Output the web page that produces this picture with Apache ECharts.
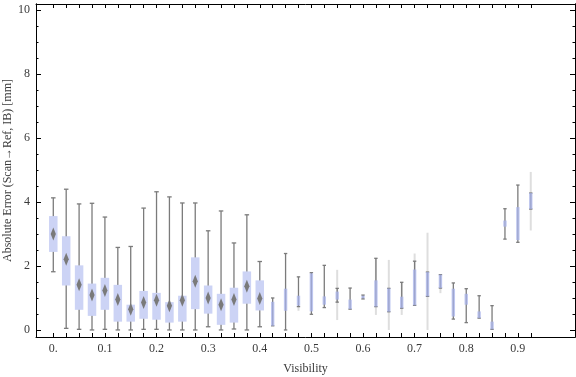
<!DOCTYPE html>
<html>
<head>
  <meta charset="utf-8" />
  <title>Visibility box whisker</title>
  <script src="https://cdn.jsdelivr.net/npm/echarts@6/dist/echarts.min.js"></script>
  <style>
    html, body { margin: 0; padding: 0; background: #fff; }
  </style>
</head>
<body>
  <div id="main" style="width: 576px; height: 377px"></div>
  <script>
    // visibility bins
    let cats = [0, 0.025, 0.05, 0.075, 0.1, 0.125, 0.15, 0.175, 0.2, 0.225,
      0.25, 0.275, 0.3, 0.325, 0.35, 0.375, 0.4, 0.425, 0.45, 0.475,
      0.5, 0.525, 0.55, 0.575, 0.6, 0.625, 0.65, 0.675, 0.7, 0.725,
      0.75, 0.775, 0.8, 0.825, 0.85, 0.875, 0.9, 0.925];
    let whiskLo = [1.82, 0.05, 0.02, 0, 0.02, 0, 0, 0.02, 0.02, 0,
      0, 0, 0.1, 0, 0.03, 0, 0.1, 0.13, 0, 0.73,
      0.49, 0.7, 0.87, 0.65, 0.97, 0.73, 0.57, 0.68, 0.77, 1.05,
      1.31, 0.34, 0.23, 0.37, 0.02, 2.84, 2.74, 3.78];
    let boxLo = [2.44, 1.39, 0.63, 0.44, 0.63, 0.26, 0.26, 0.35, 0.32, 0.23,
      0.26, 0.65, 0.51, 0.16, 0.23, 0.82, 0.61, 0.13, 0.6, 0.76,
      0.58, 0.79, 0.95, 0.65, 0.99, 0.73, 0.57, 0.68, 0.77, 1.05,
      1.31, 0.42, 0.79, 0.37, 0.02, 3.23, 2.81, 3.78];
    let medians = [3.0, 2.21, 1.41, 1.09, 1.23, 0.95, 0.65, 0.86, 0.93, 0.76,
      0.93, 1.52, 1.0, 0.79, 0.95, 1.37, 0.98, 0.58, 0.95, 0.9,
      1.2, 0.92, 1.1, 0.8, 1.03, 1.1, 0.95, 0.85, 1.3, 1.4,
      1.5, 0.9, 0.95, 0.45, 0.12, 3.32, 3.3, 4.0];
    let boxHi = [3.56, 2.93, 2.02, 1.45, 1.63, 1.41, 0.79, 1.22, 1.16, 0.87,
      1.07, 2.27, 1.39, 1.13, 1.32, 1.83, 1.55, 0.88, 1.29, 1.07,
      1.77, 1.05, 1.2, 0.95, 1.07, 1.55, 1.3, 1.04, 1.89, 1.81,
      1.73, 1.29, 1.13, 0.58, 0.26, 3.42, 3.84, 4.28];
    let whiskHi = [4.13, 4.4, 3.94, 3.96, 3.53, 2.58, 2.61, 3.81, 4.32, 4.16,
      3.97, 3.97, 3.1, 3.72, 2.72, 3.6, 2.14, 1.0, 2.39, 1.66,
      1.79, 2.02, 1.3, 1.31, 1.09, 2.24, 1.3, 1.49, 2.15, 1.81,
      1.73, 1.47, 1.29, 1.07, 0.76, 3.79, 4.53, 4.28];
    // faint outer range seen on some of the sparse bins
    let faintLo = [null, null, null, null, null, null, null, null, null, null,
      null, null, null, null, null, null, null, null, null, 0.6,
      null, null, 0.31, null, null, 0.47, 0, 0.47, 0.77, 0,
      1.15, null, null, null, null, null, null, 3.11];
    let faintHi = [null, null, null, null, null, null, null, null, null, null,
      null, null, null, null, null, null, null, null, null, 0.76,
      null, null, 1.88, null, null, 2.24, 2.19, 1.49, 2.39, 3.04,
      1.73, null, null, null, null, null, null, 4.94];
    let xLabels = [0, 0.1, 0.2, 0.3, 0.4, 0.5, 0.6, 0.7, 0.8, 0.9];
    let yMajor = [0, 2, 4, 6, 8, 10];
    let yMinor = [0.5, 1, 1.5, 2.5, 3, 3.5, 4.5, 5, 5.5, 6.5, 7, 7.5, 8.5, 9, 9.5];

    let data = cats.map(function (c, i) {
      return [c, whiskLo[i], boxLo[i], medians[i], boxHi[i], whiskHi[i],
        faintLo[i] == null ? NaN : faintLo[i], faintHi[i] == null ? NaN : faintHi[i], i];
    });

    const FONT = "'Liberation Serif', 'DejaVu Serif', serif";
    const TXT = "#3a3a3a";

    function renderBox(params, api) {
      let i = api.value(8);
      let x = api.coord([api.value(0), 0])[0];
      let y = function (v) { return api.coord([0, v])[1]; };
      let wide = i <= 16;
      let bw = wide ? 8.5 : 3.4;
      let cap = wide ? 4.5 : 3.4;
      let kids = [];
      let fl = api.value(6), fh = api.value(7);
      if (!isNaN(fl)) {
        kids.push({
          type: "line",
          shape: { x1: x, y1: y(fl), x2: x, y2: y(fh) },
          style: { stroke: "#dedede", lineWidth: 2 }
        });
      }
      let wl = y(api.value(1)), bl = y(api.value(2)), md = y(api.value(3));
      let bh = y(api.value(4)), wh = y(api.value(5));
      let wstyle = { stroke: "#7b7b7b", lineWidth: 1.3 };
      kids.push({ type: "line", shape: { x1: x, y1: wl, x2: x, y2: wh }, style: wstyle });
      kids.push({ type: "line", shape: { x1: x - cap / 2, y1: wl, x2: x + cap / 2, y2: wl }, style: wstyle });
      kids.push({ type: "line", shape: { x1: x - cap / 2, y1: wh, x2: x + cap / 2, y2: wh }, style: wstyle });
      kids.push({
        type: "rect",
        shape: { x: x - bw / 2, y: bh, width: bw, height: Math.max(bl - bh, 1.5) },
        style: { fill: wide ? "#ccd3f5" : "rgba(170,180,235,0.75)" }
      });
      if (wide) {
        kids.push({
          type: "polygon",
          shape: { points: [[x, md - 6.5], [x + 2.6, md], [x, md + 6.5], [x - 2.6, md]] },
          style: { fill: "#7a7a7a" }
        });
      }
      return { type: "group", children: kids };
    }

    let xBase = {
      type: "value",
      min: -0.0335,
      max: 1.0107,
      offset: 0,
      splitLine: { show: false },
      axisLine: { show: true, onZero: false, lineStyle: { color: "#000", width: 1 } },
      axisTick: { show: true, inside: true, length: 4, customValues: cats, lineStyle: { color: "#000" } }
    };
    let yBase = {
      type: "value",
      min: -0.22,
      max: 10.19,
      offset: 0,
      splitLine: { show: false },
      axisLine: { show: true, onZero: false, lineStyle: { color: "#000", width: 1 } }
    };

    option = {
      animation: false,
      grid: { left: 36, right: 1, top: 4, bottom: 40, containLabel: false, outerBoundsMode: "none" },
      xAxis: [
        Object.assign({}, xBase, {
          position: "bottom",
          name: "Visibility",
          nameLocation: "middle",
          nameGap: 26,
          nameMoveOverlap: false,
          nameTextStyle: { fontFamily: FONT, fontSize: 12, color: TXT },
          axisLabel: {
            customValues: xLabels,
            margin: 6,
            fontFamily: FONT,
            fontSize: 12,
            color: TXT,
            formatter: function (v) { return v === 0 ? "0." : v.toFixed(1); }
          }
        }),
        Object.assign({}, xBase, { position: "top", axisLabel: { show: false } })
      ],
      yAxis: [
        Object.assign({}, yBase, {
          position: "left",
          name: "Absolute Error (Scan\u2192Ref, IB) [mm]",
          nameLocation: "middle",
          nameGap: 22,
          nameMoveOverlap: false,
          nameTextStyle: { fontFamily: FONT, fontSize: 12, color: TXT },
          axisTick: { show: true, inside: true, length: 5, customValues: yMajor, lineStyle: { color: "#000" } },
          axisLabel: { customValues: yMajor, margin: 6, fontFamily: FONT, fontSize: 12, color: TXT }
        }),
        Object.assign({}, yBase, {
          position: "left",
          axisTick: { show: true, inside: true, length: 2.5, customValues: yMinor, lineStyle: { color: "#000" } },
          axisLabel: { show: false }
        }),
        Object.assign({}, yBase, {
          position: "right",
          axisTick: { show: true, inside: true, length: 5, customValues: yMajor, lineStyle: { color: "#000" } },
          axisLabel: { show: false }
        }),
        Object.assign({}, yBase, {
          position: "right",
          axisTick: { show: true, inside: true, length: 2.5, customValues: yMinor, lineStyle: { color: "#000" } },
          axisLabel: { show: false }
        })
      ],
      series: [
        {
          type: "custom",
          xAxisIndex: 0,
          yAxisIndex: 0,
          renderItem: renderBox,
          clip: true,
          encode: { x: 0, y: [1, 5] },
          data: data
        }
      ]
    };
    chartBox = echarts.init(document.getElementById("main"));
    chartBox.setOption(option);
  </script>
</body>
</html>
